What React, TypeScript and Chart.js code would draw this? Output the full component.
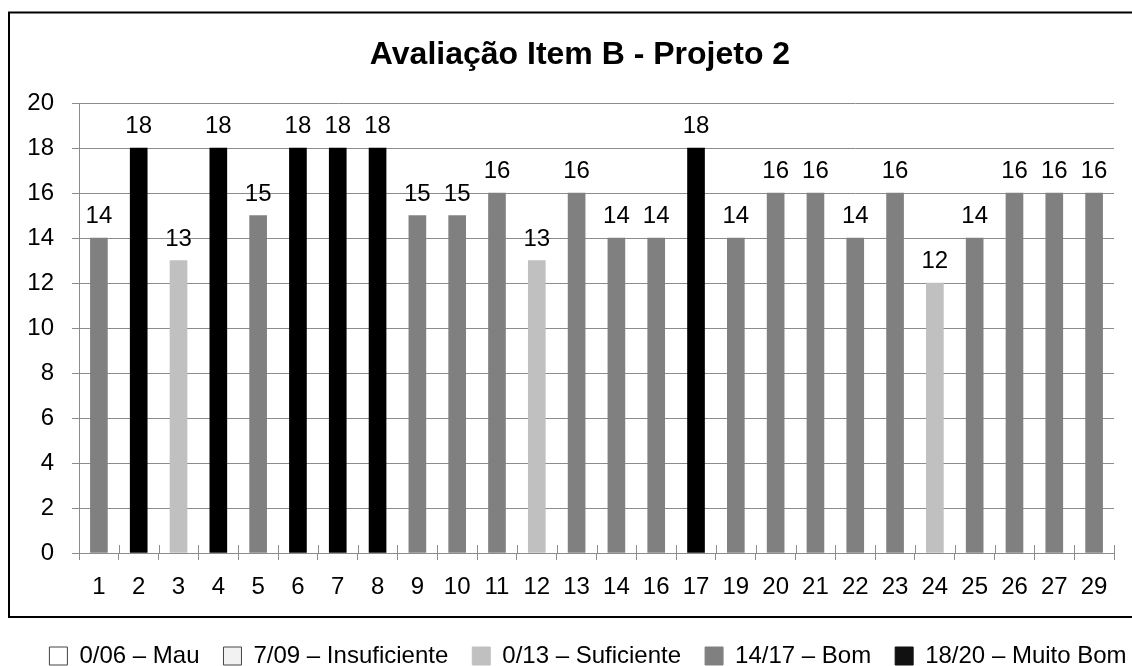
import React, { useEffect, useRef } from "react";
import { Chart, registerables } from "chart.js";

Chart.register(...registerables);

const categories = ["1", "2", "3", "4", "5", "6", "7", "8", "9", "10", "11", "12", "13", "14", "16", "17", "19", "20", "21", "22", "23", "24", "25", "26", "27", "29"];
const scores = [14, 18, 13, 18, 15, 18, 18, 18, 15, 15, 16, 13, 16, 14, 14, 18, 14, 16, 16, 14, 16, 12, 14, 16, 16, 16];
const legendLabels = ["0/06 – Mau", "7/09 – Insuficiente", "0/13 – Suficiente", "14/17 – Bom", "18/20 – Muito Bom"];
const legendColors = ["#ffffff", "#f2f2f2", "#c0c0c0", "#808080", "#111111"];
const legendStrokes = ["#444444", "#444444", "#c0c0c0", "#808080", "#111111"];
const chartTitle = "Avaliação Item B - Projeto 2";

const colorFor = (v: number) => (v >= 18 ? "#000000" : v >= 14 ? "#808080" : "#c0c0c0");

const W = 1160;
const H = 680;
const GRID = "#8c8c8c";

const frame = {
  id: "frame",
  beforeDraw(chart: any) {
    const ctx = chart.ctx;
    ctx.save();
    ctx.fillStyle = "#ffffff";
    ctx.fillRect(0, 0, chart.width, chart.height);
    ctx.strokeStyle = "#000000";
    ctx.lineWidth = 2;
    ctx.strokeRect(9, 12.5, 1141, 604.5);
    ctx.restore();
  },
};

const legendShift = {
  id: "legendShift",
  afterLayout(chart: any) {
    if (chart.legend) {
      chart.legend.left += 16;
    }
  },
};

const valueLabels = {
  id: "valueLabels",
  afterDatasetsDraw(chart: any) {
    const ctx = chart.ctx;
    const meta = chart.getDatasetMeta(0);
    ctx.save();
    ctx.font = "24px 'Liberation Sans', Arial, sans-serif";
    ctx.fillStyle = "#000000";
    ctx.textAlign = "center";
    ctx.textBaseline = "alphabetic";
    meta.data.forEach((bar: any, i: number) => {
      ctx.fillText(String(scores[i]), bar.x, bar.y - 15);
    });
    ctx.restore();
  },
};

const crossTicks = {
  id: "crossTicks",
  afterDraw(chart: any) {
    const ctx = chart.ctx;
    const area = chart.chartArea;
    const n = categories.length;
    const step = (area.right - area.left) / n;
    ctx.save();
    ctx.strokeStyle = GRID;
    ctx.lineWidth = 1;
    ctx.beginPath();
    for (let i = 0; i <= n; i++) {
      const x = Math.round(area.left + i * step) + 0.5;
      ctx.moveTo(x, area.bottom - 8);
      ctx.lineTo(x, area.bottom);
    }
    ctx.stroke();
    ctx.restore();
  },
};

export default function App() {
  const ref = useRef<HTMLCanvasElement | null>(null);

  useEffect(() => {
    if (!ref.current) return;
    Chart.defaults.font.family = "'Liberation Sans', Arial, sans-serif";
    Chart.defaults.color = "#000000";
    const chart = new Chart(ref.current, {
      type: "bar",
      data: {
        labels: categories,
        datasets: [
          {
            data: scores,
            backgroundColor: scores.map(colorFor),
            borderWidth: 0,
            barThickness: 17,
          },
        ],
      },
      options: {
        responsive: false,
        animation: false,
        devicePixelRatio: 1,
        layout: { padding: { left: 0, right: 0, top: 0, bottom: 2 } },
        plugins: {
          title: {
            display: true,
            text: chartTitle,
            color: "#000000",
            font: { size: 32, weight: "bold" },
            padding: { top: 36, bottom: 28.6 },
          },
          legend: {
            display: true,
            position: "bottom",
            onClick: () => {},
            labels: {
              boxWidth: 18,
              boxHeight: 18,
              padding: 24,
              color: "#000000",
              font: { size: 24 },
              generateLabels: () =>
                legendLabels.map((t, i) => ({
                  text: t,
                  fillStyle: legendColors[i],
                  strokeStyle: legendStrokes[i],
                  lineWidth: 1,
                  hidden: false,
                  datasetIndex: 0,
                })),
            },
          },
          tooltip: { enabled: false },
        },
        scales: {
          x: {
            grid: {
              display: true,
              drawOnChartArea: false,
              drawTicks: true,
              tickLength: 7,
              offset: true,
              color: GRID,
            },
            border: { display: true, color: GRID },
            ticks: { font: { size: 24 }, padding: 13, color: "#000000", maxRotation: 0, autoSkip: false },
            afterFit: (s: any) => {
              s.height = 67;
            },
          },
          y: {
            min: 0,
            max: 20,
            ticks: { stepSize: 2, font: { size: 24 }, padding: 18, color: "#000000" },
            grid: { color: GRID, tickLength: 7, drawTicks: true },
            border: { display: true, color: GRID },
            afterFit: (s: any) => {
              s.width = 79;
            },
          },
          yR: {
            type: "linear",
            position: "right",
            display: true,
            grid: { display: false, drawTicks: false },
            border: { display: false },
            ticks: { display: false },
            afterFit: (s: any) => {
              s.width = W - 1114;
            },
          },
        },
      },
      plugins: [frame, legendShift, valueLabels, crossTicks],
    } as any);
    return () => chart.destroy();
  }, []);

  return (
    <div style={{ position: "absolute", left: 0, top: 0, width: 1132, height: 666, overflow: "hidden", background: "#fff" }}>
      <canvas ref={ref} width={W} height={H} style={{ width: W, height: H, display: "block" }} />
    </div>
  );
}
